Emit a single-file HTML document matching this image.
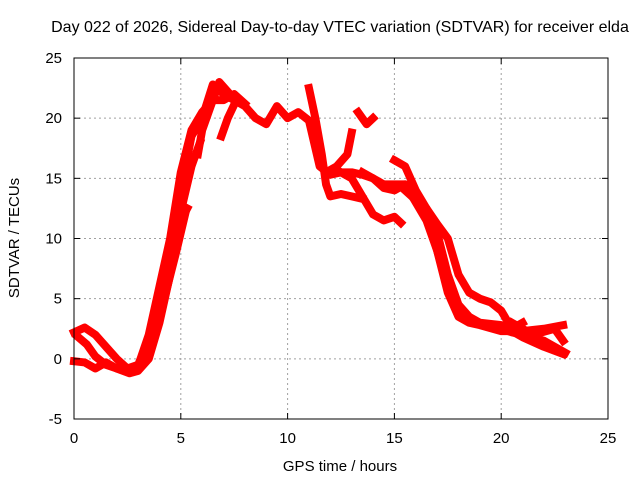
<!DOCTYPE html>
<html><head><meta charset="utf-8"><style>
body{margin:0;background:#fff;}
svg text{font-family:"Liberation Sans",sans-serif;font-size:15px;fill:#000;}
</style></head><body>
<svg id="chart" width="640" height="480">
<text x="340" y="32" text-anchor="middle" style="font-size:16px">Day 022 of 2026, Sidereal Day-to-day VTEC variation (SDTVAR) for receiver elda</text>
<text x="340" y="471" text-anchor="middle">GPS time / hours</text>
<text transform="translate(19,238) rotate(-90)" text-anchor="middle">SDTVAR / TECUs</text>
<g id="grid"></g><g id="series"></g><g id="axes"></g>
</svg>
<script>
const xTicks=[0,5,10,15,20,25];
const yTicks=[-5,0,5,10,15,20,25];
const s1=[[0,2.2],[0.5,2.6],[1,2],[1.5,1],[2,0],[2.5,-0.8],[3,-0.5],[3.5,1.5],[4,5],[4.5,9],[5,14],[5.5,18.5],[6,20],[6.5,22.8],[7,22],[7.5,21.5],[8,21],[8.5,20],[9,19.5],[9.5,21],[10,20],[10.5,20.5],[11,19.8],[11.5,16],[12,15.3],[12.5,15.5],[13,15.5],[13.5,15.3],[14,15],[14.5,14.2],[15,14],[15.5,14.5],[16,13.5],[16.5,12],[17,9],[17.5,6],[18,4],[18.5,3.3],[19,3],[19.5,2.8],[20,2.5],[20.5,2.2],[21,2],[22,1.5],[23,0.5]];
const s2=[[0,-0.2],[0.5,-0.3],[1,-0.8],[1.5,-0.3],[2,-0.8],[2.6,-1.2],[3,-1],[3.5,0],[4,3],[4.5,7],[5,11.5],[5.3,12.5]];
const s3=[[0.2,1.8],[0.6,1.2],[1,0.2],[1.5,-0.5],[2,-0.8],[2.5,-1.1],[3,-0.6],[3.5,2],[4,6],[4.5,10],[5,15.5],[5.5,19],[6,20.5],[6.5,21.5],[7,21.5],[7.5,22],[8,21.2]];
const s4=[[5.8,17],[6,19],[6.5,21.5],[6.8,23],[7.2,22.2]];
const s5=[[6.9,18.5],[7.2,20],[7.6,21.5]];
const s6=[[11,22.5],[11.3,20],[11.6,17],[11.8,14.5],[12,13.5],[12.5,13.7],[13,13.5],[13.5,13.3]];
const s7=[[11.8,15.5],[12.3,16],[12.8,17],[13,18.8]];
const s8=[[13.3,20.5],[13.7,19.5],[14,20]];
const s9=[[12.5,15.5],[13,15],[13.5,13.5],[14,12],[14.5,11.5],[15,11.8],[15.3,11.3]];
const s10=[[13.5,15.5],[14.5,14.5],[15.5,14.5],[16,13],[16.5,11.5],[17,9],[17.5,5.5],[18,3.5],[18.5,3],[19,2.8],[20,2.3],[21,2.3],[22,2.5],[22.9,2.8]];
const s11=[[15,16.5],[15.5,16],[16,14],[16.5,12.5],[17,11.2],[17.5,10],[18,7],[18.5,5.5],[19,5],[19.5,4.7],[20,4],[20.5,2.5],[21,3]];
const s12=[[15.5,14],[16,13.2],[16.5,12.5],[17,10.5],[17.5,7],[18,4.5],[18.5,3.5],[19,3],[20,2.8],[21,1.8],[22,1],[22.9,0.4]];
const s13=[[20.5,3],[21.5,2],[22.5,2.5],[22.9,1.5]];
const s14=[[3.2,0],[3.7,3],[4.2,6.5],[4.7,10],[5.1,13],[5.5,16],[5.9,18]];
const s15=[[3.8,2],[4.3,5.5],[4.8,9],[5.2,12]];
const allSeries=[s1,s2,s3,s4,s5,s6,s7,s8,s9,s10,s11,s12,s13,s14,s15];
const L=74,R=608,T=58,B=419;
function X(v){return L+(v-0)/(25-0)*(R-L);}
function Y(v){return B-(v+5)/(25+5)*(B-T);}
const NS="http://www.w3.org/2000/svg";
function mk(tag,attrs,parent){const e=document.createElementNS(NS,tag);for(const k in attrs)e.setAttribute(k,attrs[k]);parent.appendChild(e);return e;}
const grid=document.getElementById('grid'),axes=document.getElementById('axes'),ser=document.getElementById('series');
xTicks.forEach(t=>{
  if(t>0&&t<25){const g=mk('line',{x1:X(t),x2:X(t),y1:T,y2:B,stroke:'#a0a0a0','stroke-dasharray':'2,3'},grid);
  
  }
  const l=mk('text',{x:X(t),y:B+24,'text-anchor':'middle'},axes);l.textContent=t;
  
  
  mk('line',{x1:X(t),x2:X(t),y1:B,y2:B-6,stroke:'#000'},axes);
  mk('line',{x1:X(t),x2:X(t),y1:T,y2:T+6,stroke:'#000'},axes);
});
yTicks.forEach(t=>{
  if(t>-5&&t<25){const g=mk('line',{x1:L,x2:R,y1:Y(t),y2:Y(t),stroke:'#a0a0a0','stroke-dasharray':'2,3'},grid);
  
  }
  const l=mk('text',{x:L-12,y:Y(t)+5,'text-anchor':'end'},axes);l.textContent=t;
  
  
  mk('line',{x1:L,x2:L+6,y1:Y(t),y2:Y(t),stroke:'#000'},axes);
  mk('line',{x1:R,x2:R-6,y1:Y(t),y2:Y(t),stroke:'#000'},axes);
});
const fr=mk('rect',{x:L,y:T,width:R-L,height:B-T,fill:'none',stroke:'#000'},axes);


allSeries.forEach((s,i)=>{
  const p=mk('polyline',{points:s.map(d=>X(d[0])+','+Y(d[1])).join(' '),fill:'none',stroke:'#ff0000','stroke-width':8,'stroke-linejoin':'round','stroke-linecap':'square'},ser);
  
  
});
</script>
</body></html>
